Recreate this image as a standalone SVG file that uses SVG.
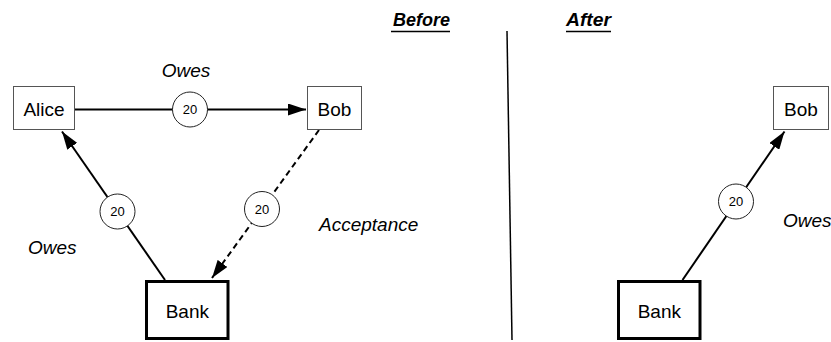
<svg xmlns="http://www.w3.org/2000/svg" width="831" height="342" viewBox="0 0 831 342">
  <style>
    text { font-family: "Liberation Sans", Arial, Helvetica, sans-serif; fill: #000; }
    .label { font-size: 19px; text-anchor: middle; }
    .note { font-size: 19px; font-style: italic; }
    .head { font-size: 18px; font-style: italic; font-weight: bold; }
    .amt { font-size: 13px; text-anchor: middle; }
    .box { fill: #fff; stroke: #555; stroke-width: 1; }
    .bank { fill: #fff; stroke: #000; stroke-width: 3; }
    .edge { fill: none; stroke: #000; stroke-width: 2; }
    .dash { stroke-dasharray: 6 4; }
    .bubble { fill: #fff; stroke: #222; stroke-width: 1; }
    .rule { stroke: #000; stroke-width: 1.5; }
  </style>
  <defs>
    <marker id="arrow" viewBox="0 0 18 12" refX="18" refY="6" markerWidth="18" markerHeight="12" markerUnits="userSpaceOnUse" orient="auto">
      <path d="M0,0 L18,6 L0,12 Z" fill="#000"/>
    </marker>
  </defs>

  <!-- headings and divider -->
  <g id="headings">
    <text class="head" x="450" y="26" text-anchor="end">Before</text>
    <line class="rule" x1="391" y1="31.5" x2="450" y2="31.5" stroke-width="1.2"/>
    <text class="head" x="566" y="26" textLength="45" lengthAdjust="spacingAndGlyphs">After</text>
    <line class="rule" x1="566" y1="31.5" x2="611" y2="31.5" stroke-width="1.2"/>
    <line class="rule" x1="507" y1="31" x2="512" y2="340"/>
  </g>

  <!-- connectors -->
  <g id="connectors">
    <line class="edge" x1="75" y1="109.5" x2="306" y2="109.5" marker-end="url(#arrow)"/>
    <line class="edge" x1="165" y1="280" x2="62" y2="131.5" marker-end="url(#arrow)"/>
    <line class="edge dash" x1="319" y1="130" x2="212" y2="278" marker-end="url(#arrow)"/>
    <line class="edge" x1="682.5" y1="280" x2="784.5" y2="131.5" marker-end="url(#arrow)"/>

    <circle class="bubble" cx="190" cy="109.5" r="17.5"/>
    <text class="amt" x="190" y="114">20</text>
    <circle class="bubble" cx="117.5" cy="211.5" r="17.5"/>
    <text class="amt" x="117.5" y="216">20</text>
    <circle class="bubble" cx="262" cy="209" r="17.5"/>
    <text class="amt" x="262" y="213.5">20</text>
    <circle class="bubble" cx="736" cy="201.5" r="17.5"/>
    <text class="amt" x="736" y="206">20</text>

    <text class="note" x="186" y="77" text-anchor="middle">Owes</text>
    <text class="note" x="28" y="254">Owes</text>
    <text class="note" x="319" y="231">Acceptance</text>
    <text class="note" x="783" y="227">Owes</text>
  </g>

  <!-- before -->
  <g id="alice">
    <rect class="box" x="13.5" y="86.5" width="61" height="43"/>
    <text class="label" x="44" y="116">Alice</text>
  </g>
  <g id="bob">
    <rect class="box" x="307.5" y="86.5" width="54" height="43"/>
    <text class="label" x="334.5" y="116">Bob</text>
  </g>
  <g id="bank">
    <rect class="bank" x="146.5" y="281.5" width="81.5" height="57"/>
    <text class="label" x="187.3" y="318">Bank</text>
  </g>

  <!-- after -->
  <g id="bob-after">
    <rect class="box" x="773.5" y="86.5" width="55" height="43"/>
    <text class="label" x="801" y="116">Bob</text>
  </g>
  <g id="bank-after">
    <rect class="bank" x="618.5" y="281.5" width="81.5" height="57"/>
    <text class="label" x="659.3" y="318">Bank</text>
  </g>
</svg>
